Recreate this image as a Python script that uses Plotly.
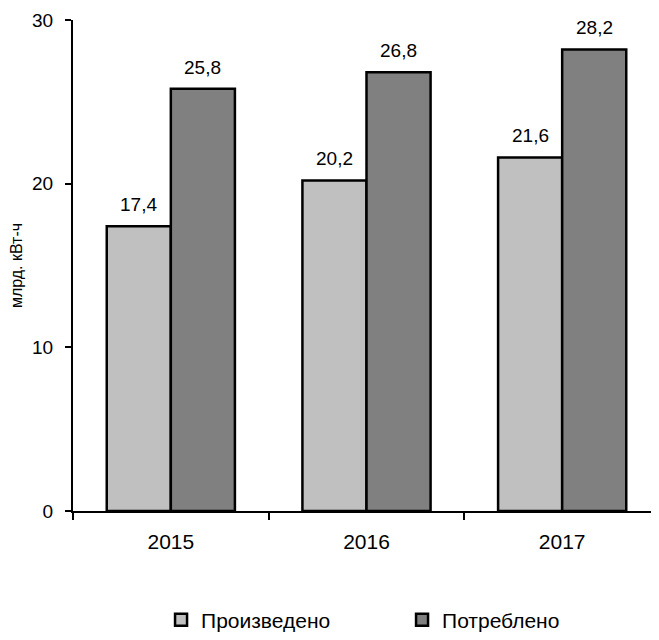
import plotly.graph_objects as go

years = ["2015", "2016", "2017"]
produced = [17.4, 20.2, 21.6]
consumed = [25.8, 26.8, 28.2]
series_names = ["Произведено", "Потреблено"]
series_colors = ["#C0C0C0", "#808080"]
y_title = "млрд. кВт-ч"

fnt = "Liberation Sans, Arial, sans-serif"
bargap = 0.345
W, H = 659, 640
ML, MR, MT, MB = 65, 7, 12, 126

fig = go.Figure()
for name, vals, col in zip(series_names, [produced, consumed], series_colors):
    fig.add_trace(go.Bar(
        x=years, y=vals, name=name,
        marker=dict(color=col, line=dict(color="black", width=2.5)),
    ))

# value labels above each bar (offset half a bar width left/right of category centre)
plot_w = W - ML - MR
bar_w = plot_w / len(years) * (1 - bargap) / 2
for i, vals in enumerate([produced, consumed]):
    for idx, v in enumerate(vals):
        fig.add_annotation(
            x=idx, y=v, xref="x", yref="y",
            text=f"{v:.1f}".replace(".", ","),
            showarrow=False, yanchor="bottom", xanchor="center",
            xshift=(i - 0.5) * bar_w, yshift=9,
            font=dict(size=19, color="black", family=fnt),
        )

fig.update_layout(
    width=W, height=H,
    margin=dict(l=ML, r=MR, t=MT, b=MB),
    paper_bgcolor="white", plot_bgcolor="white",
    font=dict(family=fnt, size=18, color="black"),
    separators=", ",
    barmode="group", bargap=bargap, bargroupgap=0,
    showlegend=True,
    legend=dict(orientation="h", x=0.150, xanchor="left", y=-0.222, yanchor="middle",
                entrywidth=196, entrywidthmode="pixels",
                font=dict(size=21, family=fnt), traceorder="normal"),
    xaxis=dict(type="category", range=[-0.5, len(years) - 0.5],
               showline=True, linecolor="black", linewidth=2,
               automargin=False,
               ticks="outside", tickson="boundaries", ticklen=7, tickwidth=2,
               tickcolor="black", ticklabelstandoff=11, showgrid=False,
               tickfont=dict(size=21)),
    yaxis=dict(range=[0, 30], tickvals=[0, 10, 20, 30], showline=True, automargin=False,
               linecolor="black", linewidth=2, ticks="outside", ticklen=6,
               tickwidth=2, tickcolor="black", showgrid=False, zeroline=False,
               ticklabelstandoff=8, tickfont=dict(size=19),
               title=dict(text=y_title, font=dict(size=16), standoff=7)),
)

fig.write_html("out.html")
